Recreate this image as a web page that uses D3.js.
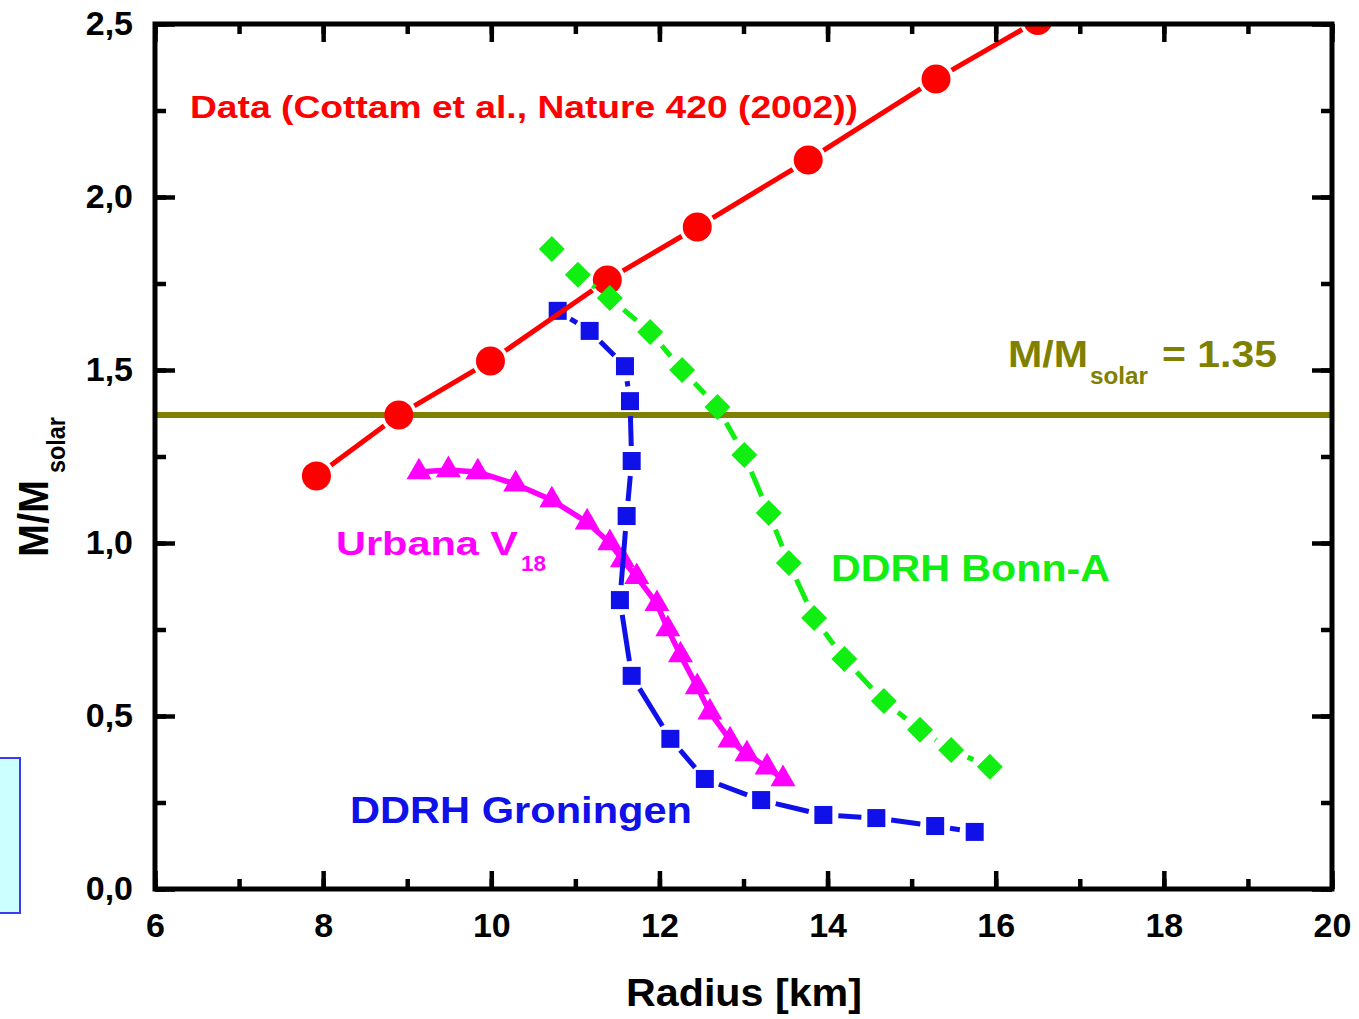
<!DOCTYPE html>
<html><head><meta charset="utf-8">
<script src="https://cdn.jsdelivr.net/npm/d3@7"></script>
<style>
body{margin:0;background:#fff}
text{font-family:"Liberation Sans",Arial,Helvetica,sans-serif;font-weight:bold}
</style>
</head><body>
<svg id="c" width="1359" height="1019"></svg>
<script>
// ---- data ----
const xTickValues = [6, 8, 10, 12, 14, 16, 18, 20];
const yTickValues = [0, 0.5, 1.0, 1.5, 2.0, 2.5];
const yTickLabels = ["0,0", "0,5", "1,0", "1,5", "2,0", "2,5"];

const cottamR = [7.92, 8.90, 9.99, 11.38, 12.45, 13.77, 15.29, 16.50];
const cottamM = [1.194, 1.370, 1.526, 1.760, 1.913, 2.107, 2.341, 2.510];

const groningenR = [10.79, 11.17, 11.59, 11.65, 11.67, 11.61, 11.53, 11.67, 12.13, 12.54, 13.21, 13.95, 14.58, 15.28, 15.75];
const groningenM = [1.671, 1.613, 1.511, 1.410, 1.237, 1.078, 0.835, 0.616, 0.434, 0.318, 0.257, 0.214, 0.205, 0.182, 0.165];

const urbanaR = [9.14, 9.49, 9.84, 10.29, 10.72, 11.14, 11.41, 11.56, 11.73, 11.97, 12.10, 12.25, 12.45, 12.60, 12.84, 13.04, 13.28, 13.47];
const urbanaM = [1.205, 1.211, 1.205, 1.170, 1.124, 1.060, 1.000, 0.951, 0.902, 0.824, 0.751, 0.676, 0.584, 0.511, 0.430, 0.390, 0.352, 0.318];

const bonnR = [10.72, 11.03, 11.41, 11.89, 12.27, 12.69, 13.01, 13.30, 13.54, 13.84, 14.20, 14.67, 15.10, 15.47, 15.93];
const bonnM = [1.850, 1.775, 1.708, 1.610, 1.500, 1.393, 1.254, 1.087, 0.942, 0.783, 0.665, 0.543, 0.460, 0.402, 0.353];

const thresholdM = 1.37;

// ---- layout ----
const svg = d3.select("#c");
const L = 155, R = 1332, T = 24, B = 889;
const x = d3.scaleLinear().domain([6, 20]).range([L, R]);
const y = d3.scaleLinear().domain([0, 2.5]).range([B, T]);

const COL = {red:"#ff0000", blue:"#1010e8", green:"#11ee11", pink:"#ff00ff", olive:"#808000"};

// left cyan box
svg.append("rect").attr("x", -3).attr("y", 758).attr("width", 23).attr("height", 155)
  .attr("fill", "#ccffff").attr("stroke", "#3a3aee").attr("stroke-width", 2);

svg.append("defs").append("clipPath").attr("id", "plot")
  .append("rect").attr("x", L).attr("y", T).attr("width", R - L).attr("height", B - T);

const plot = svg.append("g").attr("clip-path", "url(#plot)");

// threshold line
plot.append("line").attr("x1", x(6)).attr("x2", x(20))
  .attr("y1", y(thresholdM)).attr("y2", y(thresholdM))
  .attr("stroke", COL.olive).attr("stroke-width", 6);

function pts(xs, ys) { return xs.map((v, i) => [x(v), y(ys[i])]); }
function drawGapped(g, p, gap, color, w) {
  for (let i = 0; i < p.length - 1; i++) {
    const [x0, y0] = p[i], [x1, y1] = p[i + 1];
    const dx = x1 - x0, dy = y1 - y0, d = Math.hypot(dx, dy);
    if (d <= 2 * gap + 1) continue;
    const ux = dx / d, uy = dy / d;
    g.append("line").attr("x1", x0 + ux * gap).attr("y1", y0 + uy * gap)
      .attr("x2", x1 - ux * gap).attr("y2", y1 - uy * gap)
      .attr("stroke", color).attr("stroke-width", w).attr("stroke-linecap", "butt");
  }
}

// Urbana (pink triangles) - continuous line
const pU = pts(urbanaR, urbanaM);
plot.append("path").datum(pU).attr("d", d3.line()).attr("fill", "none")
  .attr("stroke", COL.pink).attr("stroke-width", 5.5).attr("stroke-linejoin", "round");
plot.selectAll(".tri").data(pU).join("path")
  .attr("transform", d => `translate(${d[0]},${d[1]})`)
  .attr("d", d3.symbol(d3.symbolTriangle, 270)).attr("fill", COL.pink);

// Groningen (blue squares)
const pG = pts(groningenR, groningenM);
drawGapped(plot, pG, 15, COL.blue, 5);
plot.selectAll(".sq").data(pG).join("rect")
  .attr("x", d => d[0] - 9).attr("y", d => d[1] - 9)
  .attr("width", 18).attr("height", 18).attr("fill", COL.blue);

// Cottam data (red circles)
const pC = pts(cottamR, cottamM);
drawGapped(plot, pC, 18, COL.red, 5);
plot.selectAll(".circ").data(pC).join("circle")
  .attr("cx", d => d[0]).attr("cy", d => d[1]).attr("r", 14.5).attr("fill", COL.red);

// Bonn-A (green diamonds)
const pB = pts(bonnR, bonnM);
drawGapped(plot, pB, 18, COL.green, 5);
plot.selectAll(".dia").data(pB).join("path")
  .attr("d", d => `M${d[0]},${d[1]-13}L${d[0]+13},${d[1]}L${d[0]},${d[1]+13}L${d[0]-13},${d[1]}Z`)
  .attr("fill", COL.green);

// ---- axes ----
const fmtY = v => yTickLabels[yTickValues.indexOf(v)];
function styleAxis(g) {
  g.select(".domain").remove();
  g.selectAll(".tick line").attr("stroke", "#000").attr("stroke-width", 4.5);
  g.selectAll("text").attr("fill", "#000").style("font-size", "34px")
    .style("font-family", '"Liberation Sans",Arial,sans-serif').style("font-weight", "bold");
}
const xMinor = d3.range(6, 20.01, 1);
const yMinor = d3.range(0, 2.51, 0.25);

svg.append("g").attr("transform", `translate(0,${B})`)
  .call(d3.axisBottom(x).tickValues(xMinor).tickSize(-10).tickFormat("")).call(styleAxis);
svg.append("g").attr("transform", `translate(0,${B})`)
  .call(d3.axisBottom(x).tickValues(xTickValues).tickSize(-18).tickPadding(24).tickFormat(d3.format("d")))
  .call(styleAxis);
svg.append("g").attr("transform", `translate(0,${T})`)
  .call(d3.axisTop(x).tickValues(xMinor).tickSize(-10).tickFormat("")).call(styleAxis);
svg.append("g").attr("transform", `translate(0,${T})`)
  .call(d3.axisTop(x).tickValues(xTickValues).tickSize(-18).tickFormat("")).call(styleAxis);

svg.append("g").attr("transform", `translate(${L},0)`)
  .call(d3.axisLeft(y).tickValues(yMinor).tickSize(-11).tickFormat("")).call(styleAxis);
svg.append("g").attr("transform", `translate(${L},0)`)
  .call(d3.axisLeft(y).tickValues(yTickValues).tickSize(-20).tickPadding(22).tickFormat(fmtY))
  .call(styleAxis);
svg.append("g").attr("transform", `translate(${R},0)`)
  .call(d3.axisRight(y).tickValues(yMinor).tickSize(-11).tickFormat("")).call(styleAxis);
svg.append("g").attr("transform", `translate(${R},0)`)
  .call(d3.axisRight(y).tickValues(yTickValues).tickSize(-20).tickFormat("")).call(styleAxis);

svg.append("rect").attr("x", L).attr("y", T).attr("width", R - L).attr("height", B - T)
  .attr("fill", "none").attr("stroke", "#000").attr("stroke-width", 5);

// ---- text labels ----
function label(txt, x0, base, size, color, width, rot) {
  const t = svg.append("text").text(txt).attr("fill", color).style("font-size", size + "px");
  if (rot) t.attr("transform", `translate(${x0},${base}) rotate(-90)`);
  else t.attr("x", x0).attr("y", base);
  if (width) t.attr("textLength", width).attr("lengthAdjust", "spacingAndGlyphs");
  return t;
}
label("Data (Cottam et al., Nature 420 (2002))", 190, 118, 32, COL.red, 668);
label("Urbana V", 336, 555, 34, COL.pink, 182);
label("18", 521, 571, 22, COL.pink, 25);
label("DDRH Bonn-A", 831, 581, 36, COL.green, 279);
label("DDRH Groningen", 350, 823, 36, COL.blue, 342);
label("M/M", 1008, 367, 37, COL.olive, 80);
label("solar", 1090, 384, 23, COL.olive, 58);
label("= 1.35", 1162, 367, 37, COL.olive, 115);
label("Radius [km]", 626, 1006, 38, "#000", 236);
label("M/M", 48, 557, 42, "#000", 77, true);
label("solar", 65, 473, 25, "#000", 56, true);
</script>
</body></html>
